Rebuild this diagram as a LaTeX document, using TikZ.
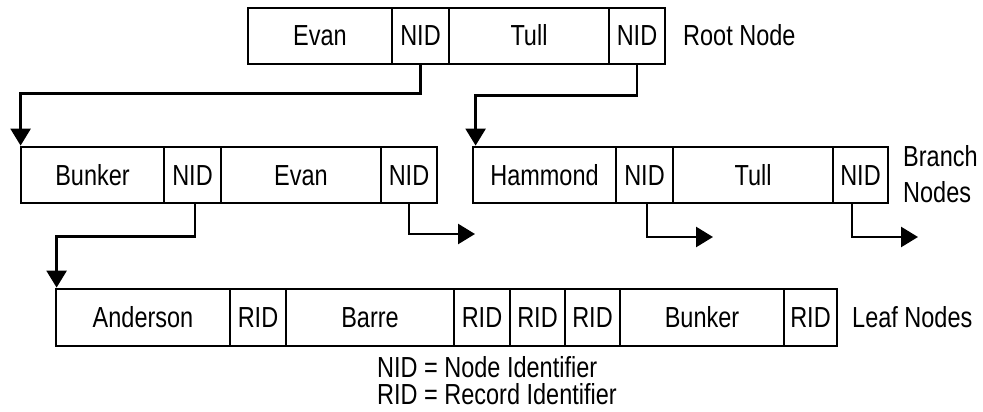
\documentclass[tikz,border=0pt]{standalone}
\usepackage{fontspec}
\setmainfont{Liberation Sans}[FakeStretch=0.81]
\usetikzlibrary{arrows.meta}
\tikzset{
  cell/.style={draw, line width=2.8pt, inner sep=0pt, minimum height=56pt,
    font=\fontsize{29}{27}\selectfont, text height=20pt, text depth=0pt},
  lbl/.style={inner sep=0pt, anchor=west, font=\fontsize{29}{27}\selectfont},
  conn/.style={line width=2.6pt},
  tip/.style={-{Triangle[length=17pt,width=20pt]}}
}
\begin{document}
\begin{tikzpicture}[x=1pt,y=-1pt]
\useasboundingbox (0,0) rectangle (983,412);
% root node
\node[cell, minimum width=144pt] (rEvan) at (320,36) {Evan};
\node[cell, minimum width=57pt]  (rNid1) at (420.5,36) {NID};
\node[cell, minimum width=160pt] (rTull) at (529,36) {Tull};
\node[cell, minimum width=56pt]  (rNid2) at (637,36) {NID};
\node[lbl, text height=20pt, text depth=0pt] (rootlbl) at (683,36) {Root Node};
% branch left
\node[cell, minimum width=143pt] (bBunker) at (92.5,175) {Bunker};
\node[cell, minimum width=57pt]  (bNid1) at (192.5,175) {NID};
\node[cell, minimum width=160pt] (bEvan) at (301,175) {Evan};
\node[cell, minimum width=56pt]  (bNid2) at (409,175) {NID};
% branch right
\node[cell, minimum width=143pt] (hHam) at (544.5,175) {Hammond};
\node[cell, minimum width=57pt]  (hNid1) at (644.5,175) {NID};
\node[cell, minimum width=160pt] (hTull) at (753,175) {Tull};
\node[cell, minimum width=55pt]  (hNid2) at (860.5,175) {NID};
\node[lbl, align=left, font=\fontsize{29}{36}\selectfont] (branchlbl) at (903,174.6) {Branch\\Nodes};
% leaf
\node[cell, minimum width=174pt, minimum height=57pt] (lAnd) at (143,317.5) {Anderson};
\node[cell, minimum width=56pt, minimum height=57pt]  (lR1) at (258,317.5) {RID};
\node[cell, minimum width=168pt, minimum height=57pt] (lBarre) at (370,317.5) {Barre};
\node[cell, minimum width=56pt, minimum height=57pt]  (lR2) at (482,317.5) {RID};
\node[cell, minimum width=55pt, minimum height=57pt]  (lR3) at (537.5,317.5) {RID};
\node[cell, minimum width=55pt, minimum height=57pt]  (lR4) at (592.5,317.5) {RID};
\node[cell, minimum width=164pt, minimum height=57pt] (lBunker) at (702,317.5) {Bunker};
\node[cell, minimum width=53pt, minimum height=57pt]  (lR5) at (810.5,317.5) {RID};
\node[lbl, text height=20pt, text depth=0pt] (leaflbl) at (852,317.5) {Leaf Nodes};
% legend
\node[lbl, align=left] (legend) at (377,381) {NID = Node Identifier\\RID = Record Identifier};
% free ends
\coordinate (e1) at (475,234);
\coordinate (e2) at (713,237);
\coordinate (e3) at (918,237);
% connectors
\draw[conn, tip] (rNid1.south) -- ++(0,28) -| ([xshift=1pt]bBunker.north west);
\draw[conn, tip] (rNid2.south) -- ++(0,30) -| ([xshift=4pt]hHam.north west);
\draw[conn, tip] ([xshift=2.5pt]bNid1.south) -- ++(0,32) -| ([xshift=2pt]lAnd.north west);
\draw[conn, tip] (bNid2.south) |- (e1);
\draw[conn, tip] ([xshift=2.5pt]hNid1.south) |- (e2);
\draw[conn, tip] ([xshift=-8.5pt]hNid2.south) |- (e3);
\end{tikzpicture}
\end{document}
